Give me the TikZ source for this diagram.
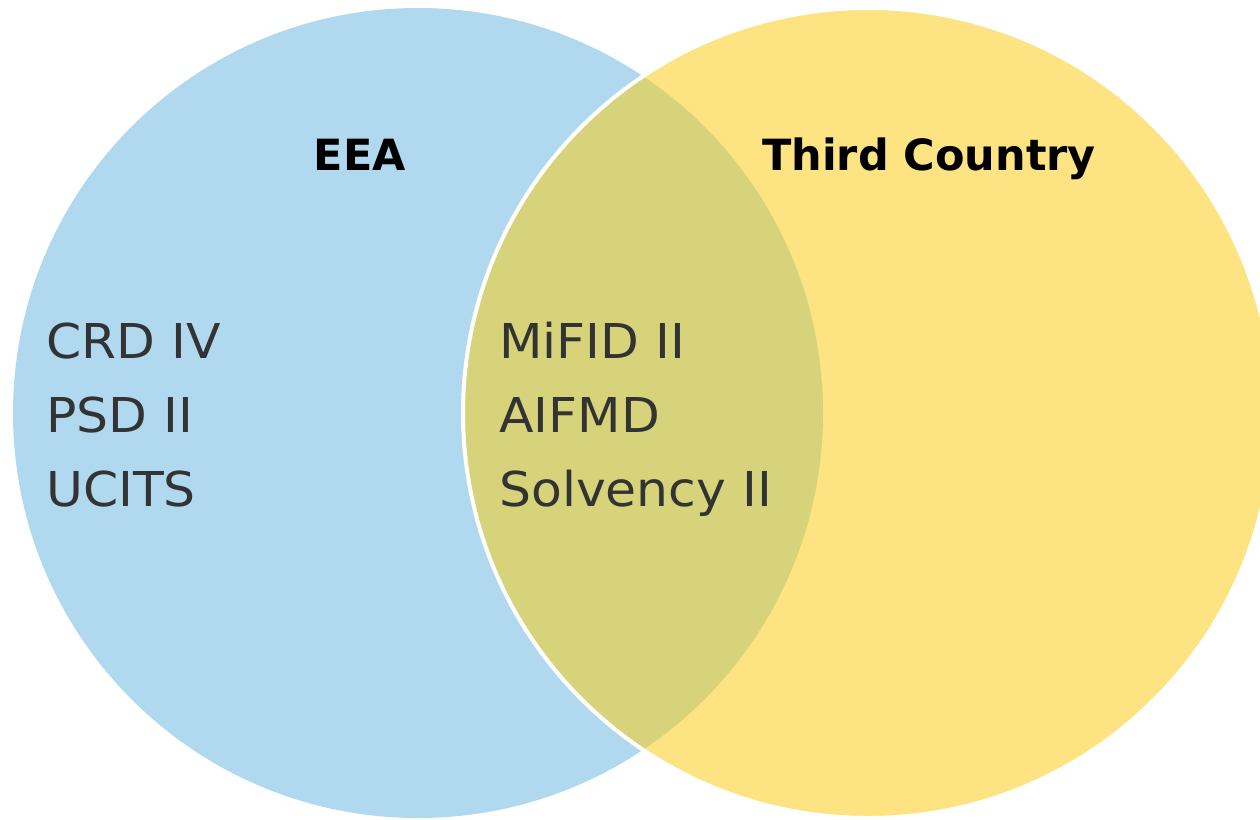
\documentclass[tikz,border=0pt]{standalone}
\usepackage{fontspec}
\setmainfont{DejaVu Sans}
\newfontfamily\itemfont[FakeStretch=1.05]{DejaVu Sans}
\definecolor{eeablue}{HTML}{B0D9F0}
\definecolor{tcyellow}{HTML}{FDE381}
\definecolor{overlap}{HTML}{D6D37A}
\definecolor{txt}{HTML}{333333}
\tikzset{
  item/.style={anchor=base west, inner sep=0pt, text=txt, font=\itemfont\fontsize{48}{56}\selectfont},
  title/.style={anchor=base, inner sep=0pt, text=black, font=\fontsize{43}{50}\selectfont\bfseries},
}
\begin{document}
\begin{tikzpicture}[x=1pt,y=-1pt]
\useasboundingbox (0,0) rectangle (1260,819);
\fill[white] (0,0) rectangle (1260,819);
\fill[eeablue] (418,413) circle[radius=405];
\fill[tcyellow] (868,413) circle[radius=405];
\begin{scope}
  \clip (418,413) circle[radius=405];
  \fill[overlap] (868,413) circle[radius=405];
\end{scope}
\draw[white, line width=4pt] (868,413) circle[radius=405];
\node[title] (eea) at (360,170) {EEA};
\node[title] (tc) at (929,170) {Third Country};
\node[item] (crd) at (46,358) {CRD IV};
\node[item] (psd) at (46,432) {PSD II};
\node[item] (ucits) at (46,506) {UCITS};
\node[item] (mifid) at (499,358) {MiFID II};
\node[item] (aifmd) at (499,432) {AIFMD};
\node[item] (solv) at (499,506) {Solvency II};
\end{tikzpicture}
\end{document}
